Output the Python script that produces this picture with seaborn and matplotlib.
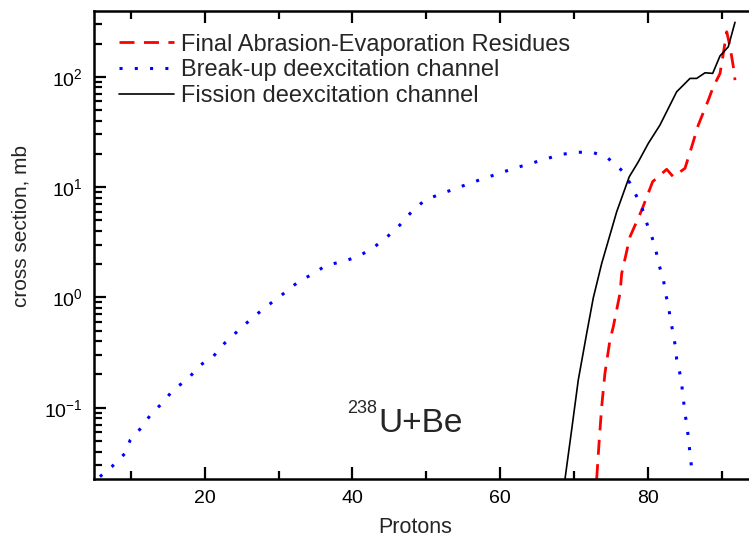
import numpy as np
import pandas as pd
import matplotlib
matplotlib.use("Agg")
import matplotlib.pyplot as plt
import seaborn as sns
from matplotlib.ticker import FixedLocator, MultipleLocator, NullFormatter, LogFormatterSciNotation

# ---- data ----
breakup_z = [5.8, 7.4, 9.2, 9.9, 11.4, 12.7, 14.3, 15.8, 17.7, 19.2, 21.2, 22.7, 24.5,
             26.3, 28.3, 30.3, 32.4, 34.5, 36.5, 38.5, 40.6, 42.7, 44.7, 46.4, 48.0,
             49.8, 51.9, 54.0, 56.0, 58.0, 60.1, 62.2, 64.3, 66.3, 68.3, 70.4, 72.5,
             74.5, 76.5, 77.6, 78.6, 79.4, 79.9, 80.6, 81.1, 81.5, 82.1, 82.3, 82.8,
             83.0, 83.4, 83.7, 83.9, 84.3, 84.6, 84.8, 85.0, 85.3, 85.5, 85.7, 85.9]
breakup_xs = [0.0237, 0.0291, 0.0385, 0.0508, 0.0658, 0.0869, 0.111, 0.147, 0.181, 0.238,
              0.294, 0.385, 0.498, 0.640, 0.822, 1.035, 1.34, 1.62, 1.96, 2.10, 2.32,
              2.78, 3.54, 4.52, 5.97, 7.62, 8.65, 9.72, 10.9, 12.1, 13.5, 15.0, 16.5,
              18.1, 19.8, 20.7, 20.7, 18.5, 14.1, 10.8, 7.91, 5.97, 4.59, 3.43, 2.63,
              1.96, 1.49, 1.12, 0.851, 0.646, 0.482, 0.364, 0.274, 0.209, 0.157, 0.120,
              0.090, 0.068, 0.051, 0.0385, 0.0291]

fission_z = [68.77, 69.67, 70.57, 71.71, 72.6, 73.74, 75.77, 77.47, 78.69, 80.05, 81.63,
             83.89, 85.7, 86.6, 87.73, 88.77, 89.76, 90.88, 91.79]
fission_xs = [0.0225, 0.0627, 0.178, 0.472, 0.987, 2.03, 5.97, 12.4, 16.9, 24.9, 36.5,
              73.1, 96.7, 96.7, 108.7, 107.4, 154.6, 187, 312]

residues_z = [73.06, 73.41, 73.74, 74.18, 74.86, 75.31, 76.22, 76.45, 77.57, 79.16, 80.64,
              82.54, 83.43, 85.02, 85.93, 86.82, 88.18, 88.85, 89.76, 90.21, 90.67,
              91.12, 91.57, 91.79]
residues_xs = [0.0225, 0.0508, 0.102, 0.205, 0.410, 0.541, 1.09, 1.65, 3.54, 6.18, 11.2,
               14.5, 12.4, 14.8, 23.2, 36.5, 61.5, 81.1, 107, 163, 256, 187, 123, 93.3]

labels = ["Final Abrasion-Evaporation Residues",
          "Break-up deexcitation channel",
          "Fission deexcitation channel"]

y_major = [0.1, 1, 10, 100]
y_minor_mult = [2, 3, 4, 5, 6, 7, 8, 9]
y_decades = [0.01, 0.1, 1, 10, 100]

# ---- style ----
sns.set_style("ticks")
plt.rcParams["font.family"] = ["Liberation Sans", "DejaVu Sans"]
plt.rcParams["mathtext.fontset"] = "custom"
plt.rcParams["mathtext.rm"] = "Liberation Sans"
plt.rcParams["mathtext.it"] = "Liberation Sans:italic"
plt.rcParams["axes.axisbelow"] = False

fig = plt.figure(figsize=(7.49, 5.38), dpi=100)
ax = fig.add_axes([94 / 749, 1 - 478.7 / 538, (758.7 - 94) / 749, (478.7 - 11) / 538])

df_r = pd.DataFrame({"Z": residues_z, "xs": residues_xs})
df_b = pd.DataFrame({"Z": breakup_z, "xs": breakup_xs})
df_f = pd.DataFrame({"Z": fission_z, "xs": fission_xs})

sns.lineplot(data=df_r, x="Z", y="xs", ax=ax, color="#ff0000", lw=2.0,
             linestyle=(0, (5.4, 3.4)), label=labels[0], sort=False)
sns.lineplot(data=df_b, x="Z", y="xs", ax=ax, color="#0000ff", lw=2.2,
             linestyle=(0, (1, 4.0)), label=labels[1], sort=False)
sns.lineplot(data=df_f, x="Z", y="xs", ax=ax, color="black", lw=1.2,
             linestyle="-", label=labels[2], sort=False)

ax.set_yscale("log")
ax.set_xlim(5, 95)
ax.set_ylim(0.0227, 395)
ax.set_axisbelow(False)

ax.xaxis.set_major_locator(MultipleLocator(20))
ax.xaxis.set_minor_locator(MultipleLocator(10))
minor_y = [m * d for d in y_decades for m in y_minor_mult]
ax.yaxis.set_major_locator(FixedLocator(y_major))
ax.yaxis.set_major_formatter(LogFormatterSciNotation())
ax.yaxis.set_minor_locator(FixedLocator(minor_y))
ax.yaxis.set_minor_formatter(NullFormatter())

ax.tick_params(axis="both", which="both", direction="in", top=True, right=False,
               colors="black", labelsize=14, pad=8)
ax.tick_params(axis="both", which="major", length=8.5, width=1.6)
ax.tick_params(axis="both", which="minor", length=6, width=1.6)
ax.tick_params(axis="y", which="minor", left=True, length=6, width=1.6, color="black")
for s in ax.spines.values():
    s.set_linewidth(1.8)
    s.set_color("black")

ax.set_xlabel("Protons", fontsize=15.5)
ax.set_ylabel("cross section, mb", fontsize=15)
ax.xaxis.set_label_coords(0.483, -0.082)
ax.yaxis.set_label_coords(-0.096, 0.54)

leg = ax.legend(loc="upper left", frameon=False, fontsize=17, handlelength=2.35,
                handletextpad=0.3, labelspacing=0.16,
                bbox_to_anchor=(0.005, 0.997))

ax.text(43.57, 0.0605, "U+Be", fontsize=24, ha="left", va="baseline")
ax.text(43.34, 0.0893, "238", fontsize=13, ha="right", va="baseline")

fig.savefig("out.png", dpi=100)
